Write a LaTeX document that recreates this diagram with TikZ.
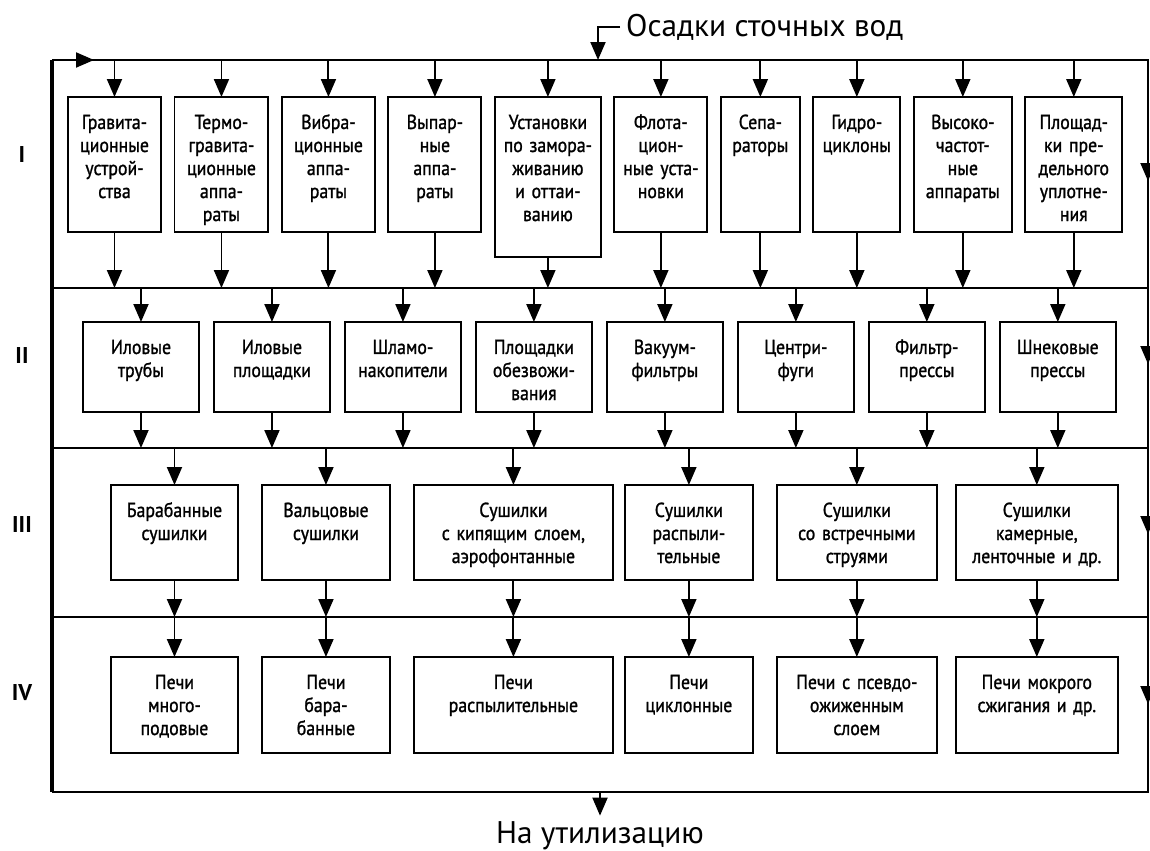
\documentclass[tikz,border=0pt]{standalone}
\usepackage{fontspec}
\setmainfont{PT Sans}
\newfontfamily\unitfont{PT Sans}[FakeStretch=0.88, FakeBold=1.2]
\usetikzlibrary{arrows.meta, positioning}

\begin{document}
\begin{tikzpicture}[
  x=0.02cm, y=-0.02cm,
  unit/.style={draw, line width=1.1pt, inner sep=0pt, outer sep=0pt, align=center, font=\unitfont\fontsize{11.5pt}{13.1pt}\selectfont, text height=0.64cm},
  rowone/.style={unit, text width=#1, text depth=2.06cm},
  rowtwo/.style={unit, text width=2.32cm, text depth=1.16cm},
  rowthree/.style={unit, text width=#1, text depth=1.26cm},
  rowfour/.style={unit, text width=#1, text depth=1.28cm},
  frame/.style={line width=1.1pt},
  flow/.style={-{Triangle[width=0.3cm, length=0.36cm]}, line width=1.1pt},
  stage/.style={font=\bfseries\fontsize{13pt}{15pt}\selectfont},
  io/.style={font=\fontsize{17.8pt}{21pt}\selectfont}
]
\useasboundingbox (0,0) rectangle (1150,851);

% frame and stage dividers
\coordinate (nw) at (52,60);
\coordinate (ne) at (1148,60);
\coordinate (se) at (1148,792);
\coordinate (sw) at (52,792);
\coordinate (dA) at (52,288);
\coordinate (dB) at (52,448);
\coordinate (dC) at (52,617);
\draw[frame] (nw) -- (ne) -- (se) -- (sw);
\draw[frame, line width=1.8pt] (sw) -- (nw);
\foreach \d in {dA,dB,dC}
  \draw[frame] (\d) -- (\d -| ne);

\node[stage] (sI) at (22,155) {I};
\node[stage] (sII) at (22,356) {II};
\node[stage] (sIII) at (22,525) {III};
\node[stage] (sIV) at (22,693) {IV};

% stage I
\node[rowone=1.86cm, anchor=north west] (b1) at (68,97) {Гравита-\\ционные\\устрой-\\ства};
\node[rowone=1.88cm, right=0.27cm of b1.north east, anchor=north west] (b2) {Термо-\\гравита-\\ционные\\аппа-\\раты};
\node[rowone=1.86cm, right=0.27cm of b2.north east, anchor=north west] (b3) {Вибра-\\ционные\\аппа-\\раты};
\node[rowone=1.86cm, right=0.27cm of b3.north east, anchor=north west] (b4) {Выпар-\\ные\\аппа-\\раты};
\node[rowone=2.12cm, text depth=2.56cm, right=0.27cm of b4.north east, anchor=north west] (b5) {Установки\\по замора-\\живанию\\и оттаи-\\ванию};
\node[rowone=1.86cm, right=0.27cm of b5.north east, anchor=north west] (b6) {Флота-\\цион-\\ные уста-\\новки};
\node[rowone=1.58cm, right=0.27cm of b6.north east, anchor=north west] (b7) {Сепа-\\раторы};
\node[rowone=1.74cm, right=0.27cm of b7.north east, anchor=north west] (b8) {Гидро-\\циклоны};
\node[rowone=1.96cm, right=0.27cm of b8.north east, anchor=north west] (b9) {Высоко-\\частот-\\ные\\аппараты};
\node[rowone=1.94cm, right=0.27cm of b9.north east, anchor=north west] (b10) {Площад-\\ки пре-\\дельного\\уплотне-\\ния};

% stage II
\node[rowtwo, anchor=north west] (c1) at (83,322) {Иловые\\трубы};
\node[rowtwo, right=0.3cm of c1] (c2) {Иловые\\площадки};
\node[rowtwo, right=0.3cm of c2] (c3) {Шламо-\\накопители};
\node[rowtwo, right=0.3cm of c3] (c4) {Площадки\\обезвожи-\\вания};
\node[rowtwo, right=0.3cm of c4] (c5) {Вакуум-\\фильтры};
\node[rowtwo, right=0.3cm of c5] (c6) {Центри-\\фуги};
\node[rowtwo, right=0.3cm of c6] (c7) {Фильтр-\\прессы};
\node[rowtwo, right=0.3cm of c7] (c8) {Шнековые\\прессы};

% stage III
\node[rowthree=2.54cm, anchor=north west] (d1) at (111,485) {Барабанные\\сушилки};
\node[rowthree=2.56cm, right=0.48cm of d1] (d2) {Вальцовые\\сушилки};
\node[rowthree=3.98cm, right=0.48cm of d2] (d3) {Сушилки\\с кипящим слоем,\\аэрофонтанные};
\node[rowthree=2.56cm, right=0.24cm of d3] (d4) {Сушилки\\распыли-\\тельные};
\node[rowthree=3.2cm, right=0.48cm of d4] (d5) {Сушилки\\со встречными\\струями};
\node[rowthree=3.24cm, right=0.38cm of d5] (d6) {Сушилки\\камерные,\\ленточные и др.};

% stage IV
\node[rowfour=2.54cm, anchor=north west] (e1) at (111,657) {Печи\\много-\\подовые};
\node[rowfour=2.56cm, right=0.48cm of e1] (e2) {Печи\\бара-\\банные};
\node[rowfour=3.98cm, right=0.48cm of e2] (e3) {Печи\\распылительные};
\node[rowfour=2.56cm, right=0.24cm of e3] (e4) {Печи\\циклонные};
\node[rowfour=3.2cm, right=0.48cm of e4] (e5) {Печи с псевдо-\\ожиженным\\слоем};
\node[rowfour=3.24cm, right=0.38cm of e5] (e6) {Печи мокрого\\сжигания и др.};

\foreach \i in {1,...,10} {
  \draw[flow] (b\i.north |- nw) -- (b\i.north);
  \draw[flow] (b\i.south) -- (b\i.south |- dA);
}
\foreach \i in {1,...,8} {
  \draw[flow] (c\i.north |- dA) -- (c\i.north);
  \draw[flow] (c\i.south) -- (c\i.south |- dB);
}
\foreach \i in {1,...,6} {
  \draw[flow] (d\i.north |- dB) -- (d\i.north);
  \draw[flow] (d\i.south) -- (d\i.south |- dC);
  \draw[flow] (e\i.north |- dC) -- (e\i.north);
}

% inlet, outlet and return line
\node[io, anchor=west] (src) at (620,27) {Осадки сточных вод};
\coordinate (srcin) at (598,60);
\draw[flow] (src.west) -| (srcin);
\coordinate (outlet) at (600,792);
\node[io] (util) at (600,836) {На утилизацию};
\draw[flow] (outlet) -- (util.north);
\coordinate (loopin) at (94,60);
\draw[flow] (nw) -- (loopin);
\foreach \y in {181,364,534,704}
  \draw[flow] (1148,\y-40) -- (1148,\y);
\end{tikzpicture}
\end{document}
